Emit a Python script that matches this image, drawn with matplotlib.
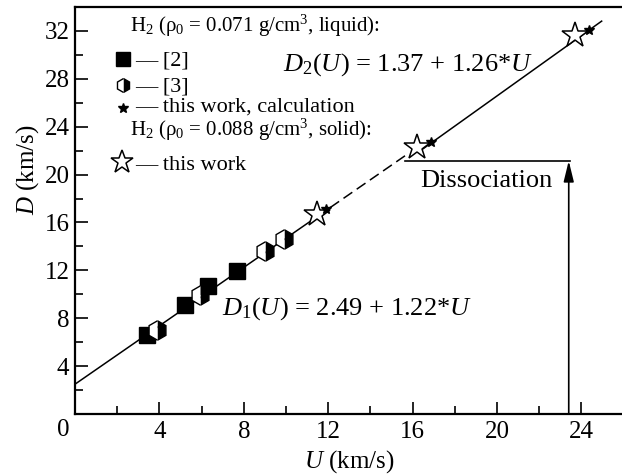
import numpy as np
import matplotlib.pyplot as plt

plt.rcParams['font.family'] = 'Liberation Serif'
plt.rcParams['mathtext.fontset'] = 'custom'
plt.rcParams['mathtext.rm'] = 'Liberation Serif'
plt.rcParams['mathtext.it'] = 'Liberation Serif:italic'

# fits D = a + b*U
a1, b1 = 2.49, 1.22
a2, b2 = 1.37, 1.26

# ref [2], liquid H2
U_ref2 = [3.42, 5.21, 6.32, 7.66]
D_ref2 = [6.62, 9.14, 10.67, 11.93]

# ref [3], liquid H2
U_ref3 = [3.87, 5.92, 9.00, 9.90]
D_ref3 = [7.04, 9.97, 13.60, 14.60]

# this work, calculation (liquid)
U_calc = [11.88, 16.86, 24.37]
D_calc = [17.10, 22.70, 32.10]

# this work, solid H2
U_solid = [11.48, 16.19, 23.70]
D_solid = [16.68, 22.27, 31.70]

# line ranges
U1_solid = [0.0, 12.1]
U1_dash = [12.1, 15.64]
U2_line = [16.5, 24.96]
U_dissoc = 23.4
D_dissoc = 21.15

fig = plt.figure(figsize=(6.22, 4.76), dpi=100)
ax = fig.add_axes([75 / 622, 62 / 476, 548.6 / 622, 407 / 476])

u = np.array(U1_solid)
ax.plot(u, a1 + b1 * u, color='k', lw=1.1)
u = np.array(U1_dash)
ax.plot(u, a1 + b1 * u, color='k', lw=1.1, dashes=[7, 3.5])
u = np.array(U2_line)
ax.plot(u, a2 + b2 * u, color='k', lw=1.1)

# dissociation marker
ax.plot([U1_dash[1], U_dissoc + 0.05], [D_dissoc, D_dissoc], color='k', lw=1.2)
ax.annotate('', xy=(U_dissoc, D_dissoc), xytext=(U_dissoc, 0),
            arrowprops=dict(arrowstyle='-|>,head_length=0.9,head_width=0.22',
                            color='k', lw=1.2, shrinkA=0, shrinkB=0,
                            mutation_scale=14))
ax.text(16.35, 18.94, 'Dissociation', fontsize=19, ha='left', va='baseline')

ax.plot(U_ref2, D_ref2, 's', ms=11, color='k', zorder=3)
ax.plot(U_ref3, D_ref3, 'h', ms=14, color='k', mfc='k', mfcalt='white',
        fillstyle='right', mec='k', mew=1.0, zorder=4)
ax.plot(U_solid, D_solid, '*', ms=19, mfc='white', mec='k', mew=1.1, zorder=5)
ax.plot(U_calc, D_calc, '*', ms=7, color='k', zorder=6)

# legend block
fs = 16
ax.text(2.61, 31.94, r'H$_2$ (ρ$_0$ = 0.071 g/cm$^3$, liquid):', fontsize=15, va='baseline')
ax.plot(2.27, 29.67, 's', ms=9.5, color='k')
ax.text(2.84, 29.09, '— [2]', fontsize=fs, va='baseline')
ax.plot(2.27, 27.49, 'h', ms=10, color='k', mfc='k', mfcalt='white',
        fillstyle='right', mec='k', mew=1.0)
ax.text(2.84, 26.91, '— [3]', fontsize=fs, va='baseline')
ax.plot(2.27, 25.57, '*', ms=7, color='k')
ax.text(2.84, 25.23, '— this work, calculation', fontsize=fs, va='baseline')
ax.text(2.61, 23.22, r'H$_2$ (ρ$_0$ = 0.088 g/cm$^3$, solid):', fontsize=15, va='baseline')
ax.plot(2.23, 21.04, '*', ms=17, mfc='white', mec='k', mew=1.1)
ax.text(2.84, 20.37, '— this work', fontsize=fs, va='baseline')

# fit equations
ax.text(9.86, 28.67, r'$D_2(U)$ = 1.37 + 1.26*$U$', fontsize=19, va='baseline')
ax.text(6.97, 8.30, r'$D_1(U)$ = 2.49 + 1.22*$U$', fontsize=19, va='baseline')

ax.set_xlim(0, 26)
ax.set_ylim(0, 34)
ax.set_xticks(np.arange(4, 25, 4))
ax.set_xticks(np.arange(2, 26, 2), minor=True)
ax.set_yticks(np.arange(4, 33, 4))
ax.set_yticks(np.arange(2, 34, 2), minor=True)
ax.tick_params(which='both', direction='in', width=1.2, labelsize=18)
ax.tick_params(which='major', length=9)
ax.tick_params(which='minor', length=6)
ax.tick_params(axis='x', pad=5)
ax.tick_params(axis='y', pad=4)
ax.text(-0.57, -1.3, '0', fontsize=18, ha='center', va='center', clip_on=False)

for s in ax.spines.values():
    s.set_linewidth(1.6)
ax.spines['right'].set_visible(False)

ax.set_xlabel(r'$U$ (km/s)', fontsize=18, va='center')
ax.xaxis.set_label_coords(0.5, -0.118)
ax.set_ylabel(r'$D$ (km/s)', fontsize=18, va='center')
ax.yaxis.set_label_coords(-0.087, 0.60)

fig.savefig('out.png', dpi=100)
